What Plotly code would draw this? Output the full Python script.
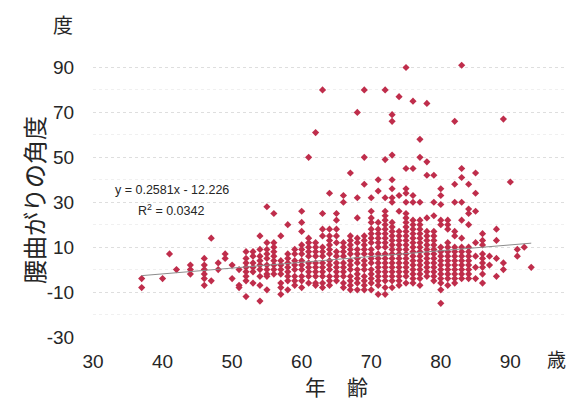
import plotly.graph_objects as go

# Age (years) of each column of measurements
ages = [37, 40, 41, 42, 44, 46, 47, 48, 49, 50, 51, 52, 53, 54, 55, 56, 57, 58, 59,
        60, 61, 62, 63, 64, 65, 66, 67, 68, 69, 70, 71, 72, 73, 74, 75, 76, 77, 78,
        79, 80, 81, 82, 83, 84, 85, 86, 87, 88, 89, 90, 91, 92, 93]

# Lumbar bending angle (degrees) measured at each age
angles_by_age = [
    [-4, -8],                                   # 37
    [-4],                                       # 40
    [7],                                        # 41
    [0],                                        # 42
    [2, 0, -2],                                 # 44
    [5, 2, 0, -2, -4, -7],                      # 46
    [14, -5],                                   # 47
    [3, 0],                                     # 48
    [7, 5],                                     # 49
    [2, -4],                                    # 50
    [0, -7, -8],                                # 51
    [8, 5, 3, 1, -1, -3, -5, -12],              # 52
    [8, 6, 3, 1, -1, -6],                       # 53
    [15, 9, 6, 4, 2, 0, -3, -7, -14],           # 54
    [28, 12, 9, 7, 5, 2, 0, -2, -3, -9],        # 55
    [25, 12, 10, 8, 6, 4, 2, 0, -2],            # 56
    [15, 4, 2, 0, -2, -6, -8, -11],             # 57
    [20, 7, 5, 3, 1, -1, -3, -5, -9],           # 58
    [9, 7, 4, 2, 0, -3, -5, -7],                # 59
    [26, 21, 17, 11, 9, 7, 4, 2, 0, -3, -5, -8],                 # 60
    [50, 14, 12, 10, 8, 6, 3, 1, -1, -3, -6],                    # 61
    [61, 12, 10, 8, 6, 3, 1, -1, -3, -6, -7],                    # 62
    [80, 25, 18, 15, 10, 8, 6, 3, 1, -1, -3, -6, -8],            # 63
    [34, 18, 15, 13, 11, 9, 7, 4, 2, 0, -3, -5, -7],             # 64
    [25, 22, 18, 15, 12, 8, 6, 3, 1, -1, -3, -5],                # 65
    [33, 30, 12, 10, 8, 6, 3, 1, -1, -3, -6, -8],                # 66
    [43, 15, 13, 11, 9, 7, 4, 2, 0, -3, -5, -7, -9],             # 67
    [70, 32, 23, 14, 12, 9, 7, 5, 3, 0, -2, -4, -6, -9],         # 68
    [80, 50, 38, 15, 13, 11, 9, 7, 4, 2, 0, -3, -5, -7, -9],     # 69
    [32, 26, 23, 21, 18, 16, 14, 12, 9, 7, 5, 3, 0, -2, -4, -6, -9],        # 70
    [40, 35, 21, 18, 16, 14, 12, 10, 7, 5, 3, 1, -1, -3, -5, -7, -11],      # 71
    [80, 49, 32, 26, 24, 22, 20, 18, 16, 14, 12, 10, 7, 5, 3, 1, -1, -3,
     -5, -8, -11],                                                          # 72
    [69, 66, 51, 40, 36, 32, 30, 21, 19, 17, 15, 13, 11, 9, 7, 5, 3, 1,
     -1, -3, -5, -8],                                                       # 73
    [77, 33, 26, 17, 15, 13, 11, 9, 7, 5, 3, 1, -1, -3, -5, -7],            # 74
    [90, 45, 36, 34, 30, 25, 23, 21, 19, 17, 15, 13, 11, 9, 7, 5, 3, 1,
     -1, -3, -6],                                                           # 75
    [75, 45, 33, 30, 22, 20, 18, 16, 14, 12, 10, 8, 6, 4, 2, 0, -2, -4, -6],  # 76
    [58, 50, 30, 22, 20, 18, 16, 14, 12, 10, 8, 6, 4, 2, 0, -2, -4, -7],    # 77
    [74, 48, 42, 23, 17, 15, 13, 11, 9, 7, 5, 3, 1, -1, -3],                # 78
    [42, 30, 24, 17, 15, 13, 11, 9, 7, 5, 3, 1, -1, -3, -5],                # 79
    [36, 33, 29, 22, 20, 10, 8, 6, 4, 2, 0, -2, -4, -6, -9, -15],           # 80
    [22, 20, 18, 12, 10, 8, 6, 4, 2, 0, -2, -4, -7],                        # 81
    [66, 38, 30, 17, 15, 10, 8, 6, 4, 2, 0, -2, -4, -6],                    # 82
    [91, 45, 41, 30, 22, 14, 10, 8, 6, 4, 2, 0, -2, -4],                    # 83
    [38, 27, 25, 20, 10, 8, 6, 4, 2, 0, -2, -4],                            # 84
    [43, 34, 26, 12, 6, 1, -4],                                             # 85
    [16, 13, 11, 7, 5, 3, 1, -2, -6],                                       # 86
    [6, 2],                                                                 # 87
    [18, 13, 5, -3],                                                        # 88
    [67, 3, 0],                                                             # 89
    [39],                                                                   # 90
    [9, 6],                                                                 # 91
    [10],                                                                   # 92
    [1],                                                                    # 93
]

# Linear fit reported on the chart
trend_slope = 0.2581
trend_intercept = -12.226
r_squared = 0.0342
trend_age_span = [37, 93]

x_tick_values = [30, 40, 50, 60, 70, 80, 90]
y_tick_values = [-30, -10, 10, 30, 50, 70, 90]
y_tick_labels = ["-30", "-10", "10", "30", "50", "70", "90"]
y_minor_values = [-20, 0, 20, 40, 60, 80, 100]

point_x = [a for a, vals in zip(ages, angles_by_age) for _ in vals]
point_y = [v for vals in angles_by_age for v in vals]
trend_y = [trend_slope * a + trend_intercept for a in trend_age_span]

W, H = 574, 403
ML, MR, MT, MB = 93, 8, 45, 66
PW, PH = W - ML - MR, H - MT - MB


def px_x(px):
    return (px - ML) / PW


def px_y(py):
    return (H - MB - py) / PH


NUM_FONT = "Liberation Sans, Arial, sans-serif"
JP_FONT = "Noto Sans CJK JP, sans-serif"
TEXT_COLOR = "#262626"

fig = go.Figure()
fig.add_trace(go.Scatter(
    x=point_x, y=point_y, mode="markers",
    marker=dict(symbol="diamond", size=5.5, color="#bf2d4b", line=dict(width=0)),
    hoverinfo="x+y",
))
fig.add_trace(go.Scatter(
    x=trend_age_span, y=trend_y, mode="lines",
    line=dict(color="#8c8c8c", width=1), hoverinfo="skip",
))

fig.update_layout(
    width=W, height=H,
    margin=dict(l=ML, r=MR, t=MT, b=MB),
    paper_bgcolor="white", plot_bgcolor="white",
    showlegend=False,
    xaxis=dict(
        range=[30, 98], tickmode="array", tickvals=x_tick_values,
        showgrid=False, zeroline=False, showline=False,
        ticks="outside", ticklen=7, tickcolor="rgba(0,0,0,0)",
        tickfont=dict(family=NUM_FONT, size=19, color=TEXT_COLOR),
    ),
    yaxis=dict(
        range=[-30, 100], tickmode="array", tickvals=y_tick_values,
        ticktext=y_tick_labels,
        showgrid=True, gridcolor="#dedede", griddash="dot", gridwidth=1,
        zeroline=False, showline=False,
        ticks="outside", ticklen=14, tickcolor="rgba(0,0,0,0)",
        tickfont=dict(family=NUM_FONT, size=19, color=TEXT_COLOR),
        minor=dict(tickmode="array", tickvals=y_minor_values, showgrid=True,
                   gridcolor="#f0f0f0", griddash="dot", gridwidth=1),
    ),
)

annotations = [
    dict(text="度", x=px_x(63), y=px_y(24), font=dict(family=JP_FONT, size=20, color=TEXT_COLOR)),
    dict(text="歳", x=px_x(556), y=px_y(358), font=dict(family=JP_FONT, size=19, color=TEXT_COLOR)),
    dict(text="年　齢", x=px_x(336), y=px_y(386), font=dict(family=JP_FONT, size=21, color=TEXT_COLOR)),
    dict(text="腰曲がりの角度", x=px_x(33), y=px_y(200), textangle=-90,
         font=dict(family=JP_FONT, size=24, color=TEXT_COLOR)),
    dict(text=f"y = {trend_slope}x - {abs(trend_intercept)}", x=px_x(172), y=px_y(190),
         font=dict(family=NUM_FONT, size=12.5, color=TEXT_COLOR)),
    dict(text=f"R<sup>2</sup> = {r_squared}", x=px_x(171), y=px_y(210),
         font=dict(family=NUM_FONT, size=12.5, color=TEXT_COLOR)),
]
for a in annotations:
    fig.add_annotation(xref="paper", yref="paper", xanchor="center", yanchor="middle",
                       showarrow=False, **a)

fig.write_html("out.html")
